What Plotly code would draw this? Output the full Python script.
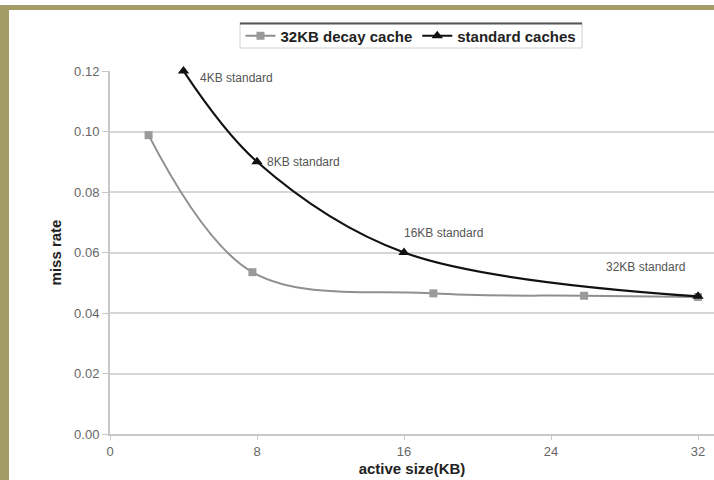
import plotly.graph_objects as go

# Data
decay_x = [2.1, 7.75, 17.6, 25.8, 32.0]
decay_y = [0.0988, 0.0535, 0.0465, 0.0457, 0.0453]
std_x = [4, 8, 16, 32]
std_y = [0.120, 0.090, 0.060, 0.0455]
std_labels = ["4KB standard", "8KB standard", "16KB standard", "32KB standard"]
x_ticks = [0, 8, 16, 24, 32]
y_ticks = [0.00, 0.02, 0.04, 0.06, 0.08, 0.10, 0.12]

FONT = "Liberation Sans, Arial, sans-serif"
OLIVE = "#a39c67"

fig = go.Figure()
fig.add_trace(go.Scatter(
    x=decay_x, y=decay_y, name="32KB decay cache", mode="lines+markers",
    line=dict(color="#8f8f8f", width=2, shape="spline", smoothing=1.0),
    marker=dict(symbol="square", size=8, color="#9a9a9a"),
    cliponaxis=False,
))
fig.add_trace(go.Scatter(
    x=std_x, y=std_y, name="standard caches", mode="lines+markers",
    line=dict(color="#111111", width=2.2, shape="spline", smoothing=1.0),
    marker=dict(symbol="triangle-up", size=10, color="#111111"),
    cliponaxis=False,
))

# point labels
shifts = [(14, -7, "left"), (8, 0, "left"), (-2, 20, "left"), (-11, 29, "right")]
for xv, yv, lab, (dx, dy, anc) in zip(std_x, std_y, std_labels, shifts):
    fig.add_annotation(x=xv, y=yv, xref="x", yref="y", text=lab, showarrow=False,
                       xanchor=anc, yanchor="middle", xshift=dx, yshift=dy,
                       font=dict(family=FONT, size=12, color="#555555"))

# Layout geometry (pixels): plot area x 110..714, y 71..434
W, H = 714, 480
L, R, T, B = 110, 0, 71, 46
pw, ph = W - L - R, H - T - B
def px(x):
    return (x - L) / pw
def py(y):
    return (H - B - y) / ph

shapes = [
    # olive background strips
    dict(type="rect", xref="paper", yref="paper", x0=px(0), x1=px(9), y0=py(480), y1=py(5),
         fillcolor=OLIVE, line=dict(width=0), layer="below"),
    dict(type="rect", xref="paper", yref="paper", x0=px(0), x1=px(714), y0=py(10), y1=py(5),
         fillcolor=OLIVE, line=dict(width=0), layer="below"),
    # legend box
    dict(type="rect", xref="paper", yref="paper", x0=px(240), x1=px(582), y0=py(48), y1=py(23),
         fillcolor="white", line=dict(color="#d0d0d0", width=1), layer="above"),
    dict(type="line", xref="paper", yref="paper", x0=px(240), x1=px(582), y0=py(23.5), y1=py(23.5),
         line=dict(color="#555555", width=2), layer="above"),
]
fig.update_layout(shapes=shapes)

fig.update_layout(
    width=W, height=H,
    margin=dict(l=L, r=R, t=T, b=B, autoexpand=False),
    paper_bgcolor="white", plot_bgcolor="white",
    font=dict(family=FONT, size=12, color="#666666"),
    showlegend=True,
    legend=dict(orientation="h", x=px(411), xanchor="center", y=py(36), yanchor="middle",
                bgcolor="rgba(0,0,0,0)", borderwidth=0,
                font=dict(family=FONT, size=15, color="#222222", weight="bold"),
                itemwidth=30, tracegroupgap=0),
    xaxis=dict(range=[0, 32.87], tickvals=x_ticks, showgrid=False, zeroline=False,
               showline=True, linecolor="#c8c8c8", linewidth=2, automargin=False,
               ticks="outside", ticklen=4, tickcolor="#c8c8c8",
               tickfont=dict(family=FONT, size=13, color="#666666"),
               title=dict(text="<b>active size(KB)</b>", standoff=6,
                          font=dict(family=FONT, size=15, color="#222222"))),
    yaxis=dict(range=[0, 0.12], tickvals=y_ticks, tickformat=".2f",
               showgrid=True, gridcolor="#d6d6d6", gridwidth=1.5, zeroline=False,
               showline=True, linecolor="#c8c8c8", linewidth=2, automargin=False,
               ticks="outside", ticklen=6, tickcolor="#c8c8c8",
               tickfont=dict(family=FONT, size=13, color="#666666"),
               title=dict(text="<b>miss rate</b>", standoff=9,
                          font=dict(family=FONT, size=15, color="#222222"))),
)

fig.write_html("out.html", config={"displayModeBar": False},
               post_script="document.body.style.margin='0px';")
